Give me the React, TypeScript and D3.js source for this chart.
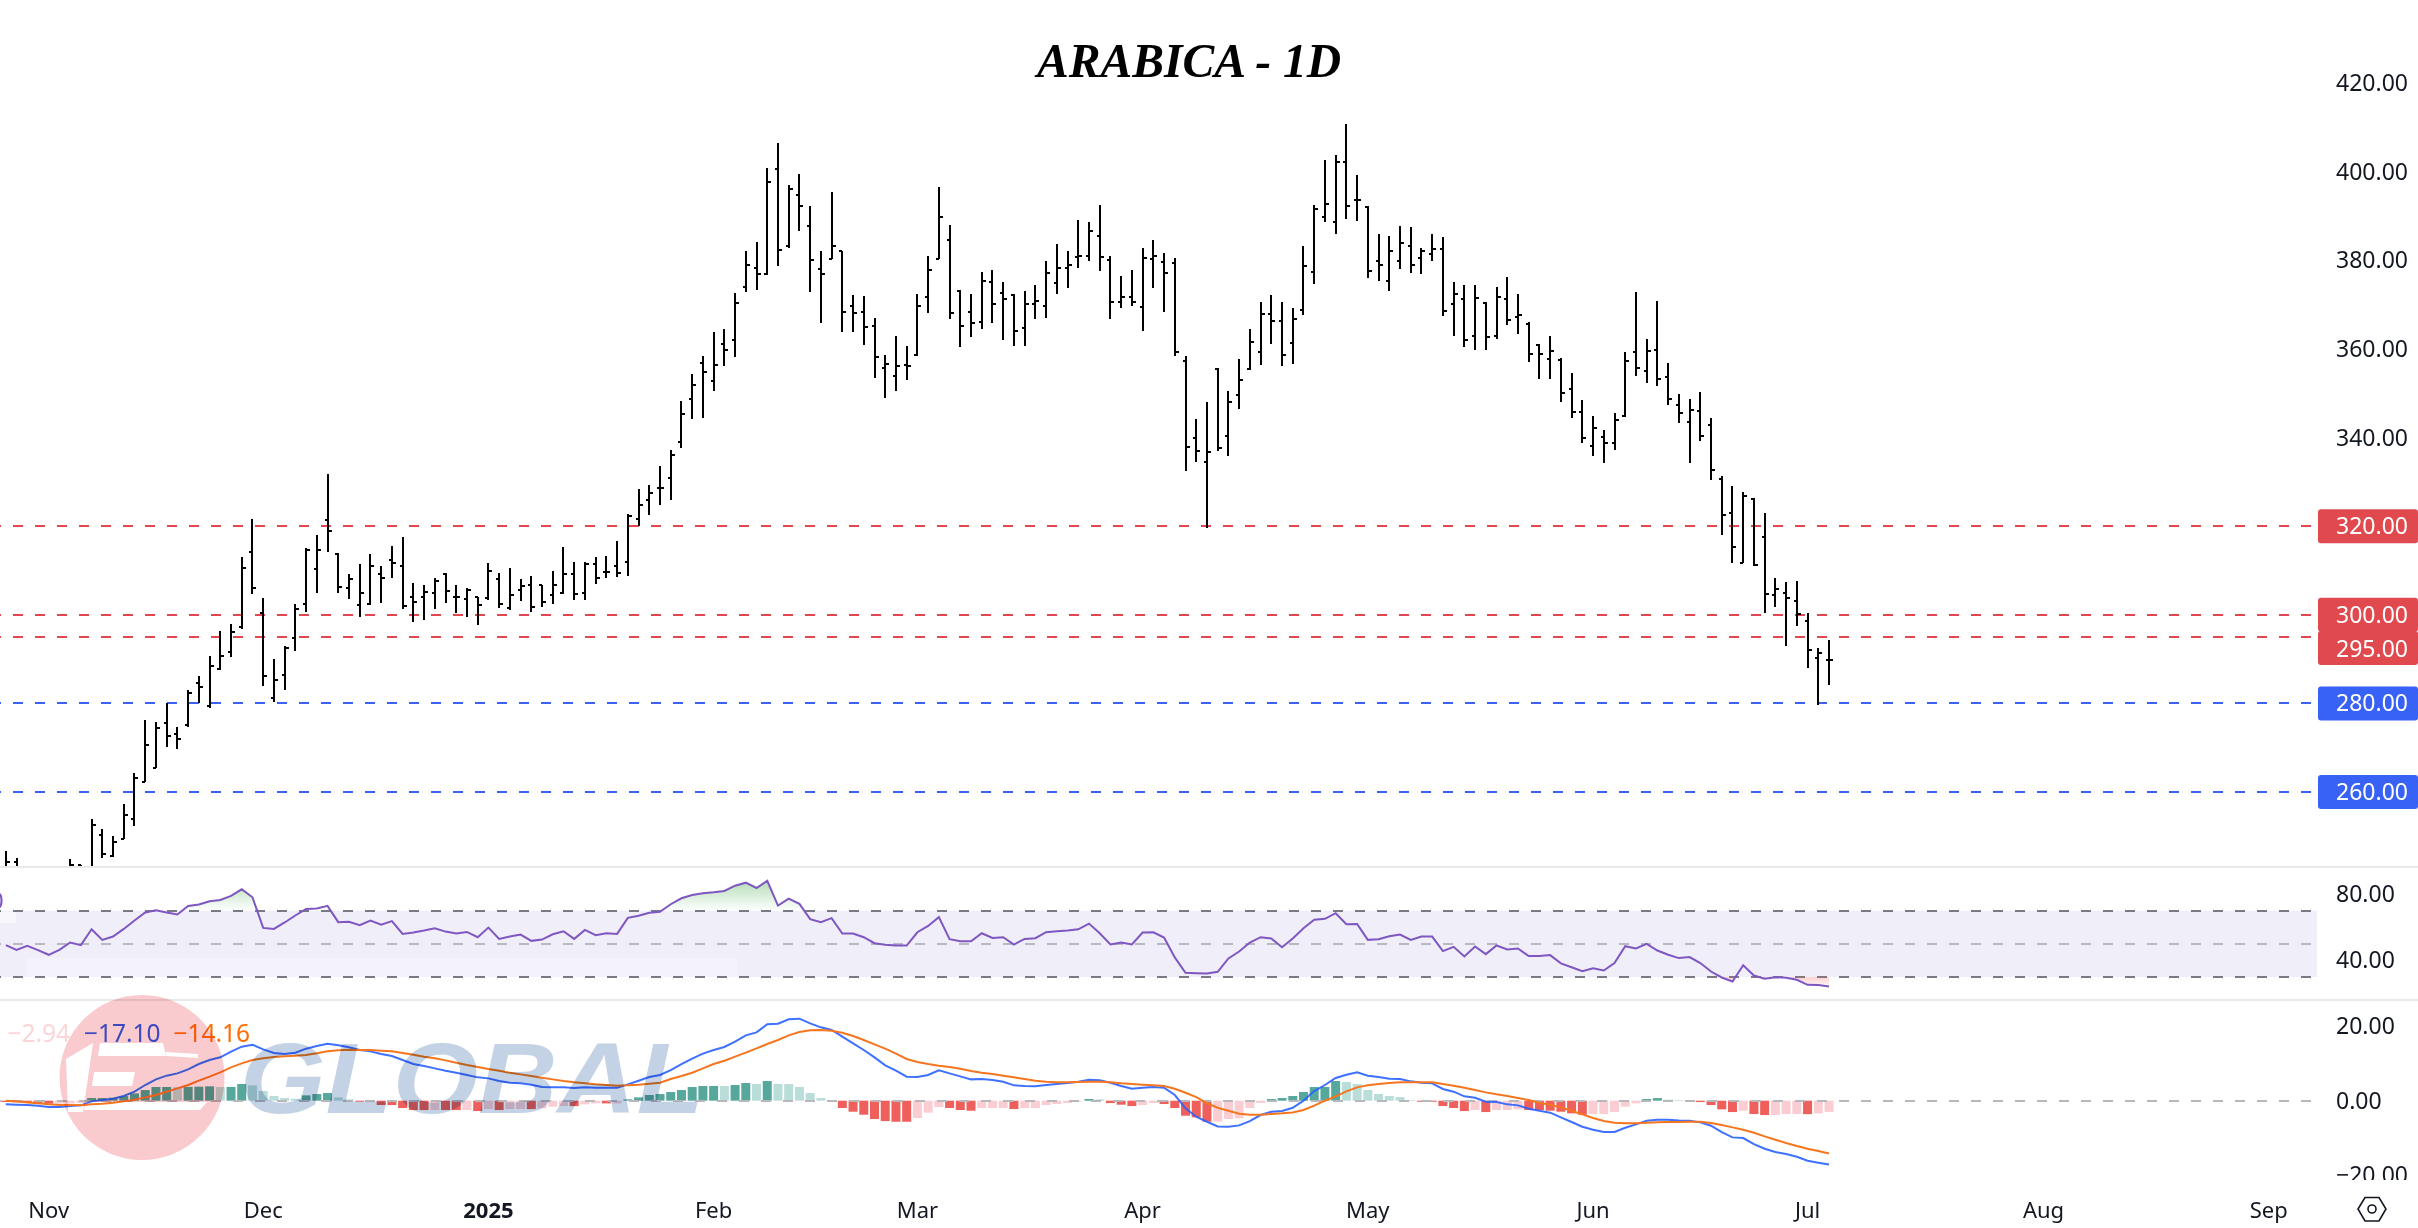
import React from 'react';
import * as d3 from 'd3';

// OHLC, one entry per session (first ones sit below the visible pane)
const opens = [
  241,244.1,240,241,238,240,240,243.5,243,250.2,
  245.6,249.5,254,262.3,265.5,275.5,273.2,275.1,284.6,279.4,
  287.7,291.7,297.2,314.1,300.4,281.3,286.5,294.8,302.5,310.4,
  321.4,313.8,306.1,302.1,302.4,309.1,312.3,311.1,303.9,303.9,
  305,309.1,304,303.5,303.9,303.7,308,301.6,305.6,306.7,
  306.7,304.5,304.8,309.1,304.9,311.4,309.7,311.1,312,321.6,
  326,
  328.6,330.8,339,348.7,356.8,352.7,361.1,362,374,
  378.2,376.9,400.6,383.2,394.7,387.7,378,380.3,382.1,369.7,
  368.3,365.1,355.7,353.9,356.3,358.6,371.7,380.3,384.6,373.1,
  368.3,366,375.1,372.6,372.2,364.7,370.1,369.7,374.9,378.2,
  380.7,380.9,385.5,380,370.6,371.7,369.4,380.3,379.6,379.4,
  357.2,339.9,334.4,355.5,340.3,349.6,355.4,359.3,367.9,366.3,
  361.3,368.8,377.3,389.8,388.6,
  402.2,393.7,392.1,379.9,375.4,379.9,383.3,380.4,381.3,382.6,
  370.2,371.3,363,370.4,362.9,371.3,367.2,365.7,360.8,357.8,
  357.4,351,345.8,338.1,340.1,338.8,344.9,359.4,355,359.8,
  353.7,347.3,343.5,346,342.9,330.6,322.9,311.7,326.2,317.6,
  304.5,304.9,303.1,298.6,290.3,289.9,
];
const highs = [
  246.7,245.2,243,242.5,241,242,244.8,243.5,253.8,251.6,
  250,257.4,264.4,276.2,275.7,280.1,274.6,283.1,286.1,290.7,
  296.4,297.9,313,321.6,303.8,290,293,302.5,315,318.1,
  331.8,314,309.1,311.5,313.8,311,315.5,317.6,307.2,306.7,
  308.4,309.5,306.7,306.1,303.9,311.6,309.5,310.5,308,308.8,
  306.7,309.8,315.2,311.8,311.9,313.1,313.2,316.7,322.8,328.3,
  329.3,
  333.5,337.2,348.2,354.3,358.4,363.8,364.5,372.6,382.1,
  384.1,400.8,406.5,397,399.5,392.2,382.1,395.4,382.2,372.1,
  371.9,367,358.6,362.9,360.6,372.4,380.9,396.5,388,373.3,
  372.4,377.3,377.8,375.1,372.4,373,374.4,379.8,383.7,382.1,
  389.1,388.6,392.5,380.9,376.4,377.8,382.8,384.6,381.6,380.5,
  358.4,344.2,348,355.6,350.5,357.7,364.5,370.6,372.1,370.6,
  369.2,383.2,392.5,402.6,403.7,
  410.8,399.2,392.2,385.9,385.4,387.8,387.5,382.7,385.9,385.3,
  375.1,374.4,374.4,370.6,373.9,376.3,372.4,366,361,362.9,
  358,354.6,348.5,344.8,341.8,345.6,359.2,372.8,362.2,370.8,
  356.7,349.9,348.6,350.3,344.3,331.4,329,327.8,326.3,322.9,
  308.4,307.3,307.6,300.3,292.4,294.3,
];
const lows = [
  239,238,236,237,235,237,238,239,243,245.2,
  245.4,249.3,252.4,262.2,265.4,270.2,269.8,274.7,280.1,279,
  287.5,290.5,296.8,304.6,284,280.3,283.1,291.9,300.7,305,
  314.1,305,303.5,299.6,302.1,302.7,308.3,301.2,298.4,298.9,
  301.2,302.7,300.3,299.6,297.6,303.4,301.6,301,303,300.7,
  301.8,302.5,304.6,303.3,303.3,306.9,308.2,308.6,308.8,320,
  322.6,
  324.8,325.9,337.7,344.2,344.5,350.5,356.2,358.2,372.9,
  373.3,376.7,378.8,382.8,386.7,372.9,365.9,380.2,363.9,363.9,
  360.9,353.5,349,350.5,353,358.5,368.2,380.2,366.8,360.5,
  362.7,364.5,365.9,362,360.7,360.7,366.8,367,372.4,373.8,
  378.3,379.9,377.6,366.8,369.3,369.7,364.1,373.8,368.4,358.5,
  332.5,334.5,319.5,337,335.8,346.4,355.2,356.3,361.1,356.1,
  356.6,367.6,374.6,388.6,385.9,
  389.2,388.9,375.9,375.4,373.1,378.1,377.2,377,379.9,367.5,
  362.9,360.5,359.8,359.8,362.3,365.3,363.4,357.1,353.3,353.3,
  348.1,344.5,338.8,335.9,334.3,337.2,344.7,353.8,352.4,351.7,
  347.4,343.3,334.3,339.3,330.4,318,311.7,311.6,311.1,300.4,
  301.8,292.9,297.5,288,279.6,284.2,
];
const closes = [
  244.1,240,241,238,240,239,243.5,241,252.6,246,
  248.8,254.9,263.2,270.7,274.4,272.7,271.9,282.3,283.8,288.5,
  290.6,296,310.5,306.1,286.2,285.3,292.6,301.4,314.6,314.5,
  318.9,306.3,308.1,305,311.1,308.4,311.6,301.9,302.9,305.2,
  307.7,305.4,303.9,305.6,302.3,309.9,302.4,304.4,306.4,301.7,
  302.9,306.7,309.1,304.6,311.5,308.2,309.7,309.4,322.2,324.7,
  327.4,
  328.6,336,345.3,351.8,354.8,356.3,359.7,370.3,378.9,
  376.9,397.7,382.3,396.1,392.2,380,376.9,383.2,368.3,368.1,
  364.9,358.1,356.6,356.1,356.1,369.7,377.8,389.8,368.1,365.1,
  365.8,375.3,370.1,371.2,364,370.1,370.8,377.1,378.2,378.9,
  380.9,386.6,380.7,370.6,371.7,370.6,380.5,380.9,377.1,359.3,
  337.8,336.9,336.7,337.6,348,353,361.5,367.9,366.3,358.6,
  366.7,378.7,391.6,392.7,402.2,
  392.3,393.7,377.5,378.9,382,383.9,378.9,382,382.6,368.6,
  372.4,362.1,371.5,362.7,371.8,366.5,367.6,358.8,358.8,359.6,
  350,345.8,339.9,342.1,338.8,344,357.3,355.7,359.6,353.2,
  348.8,345.5,346.3,340.3,332.7,322.5,315.3,326.9,311.3,304.6,
  305.9,303.8,300.1,292.1,291.3,289.9,
];

const rsiValues = [
  49.2,46.4,48.8,46.2,43.4,46.4,50.8,49.2,58.8,52.4,
  54.4,59,64.1,68.9,70.3,68.9,67.7,72.9,73.7,75.7,
  76.5,78.9,82.9,78.1,59.6,59,62.9,67.1,71.1,71.3,
  72.9,63.1,63.3,61.2,64.1,61.6,63.7,56,56.8,58,
  59.4,57.4,56.2,57.2,54,59.8,53,54.4,55.6,51.8,
  52.6,55.8,57.6,53,58.4,55.2,56.4,56,65.7,66.9,
  68.7,69.3,73.9,77.5,79.5,80.5,81.1,81.9,85.1,86.9,
  83.7,88,73.1,77.3,74.1,64.9,63.1,65.5,56.2,56.2,
  54,50.4,49.4,49,49,57,60.8,66.1,52.8,51.6,
  51.6,56.4,53.6,54,49.6,53,53.4,57,57.6,58,
  58.8,62.2,56.4,49.6,50.8,49.6,56.8,57,53.8,41.8,
  32.5,32.3,32.1,33.1,41.2,45.4,50.8,54,53.2,48,
  53.2,59.4,64.5,65.1,68.5,61.8,62,52.4,52.8,54.6,
  55.6,52.4,54.4,54.4,45.6,48.2,42.4,48.4,43.8,49,
  46.6,47.2,42.6,42.6,43.2,38.2,35.9,33.5,35.3,33.9,
  38.4,48.6,47.2,50,46,43.4,41.4,42,38.4,33.3,
  29.7,27.3,37.1,30.9,28.9,29.9,29.5,28.3,25.3,25.1,
  24.3,
];

const macdValues = [
  -0.98,-1.07,-1.16,-1.34,-1.7,-1.7,-1.43,-1.25,-0.18,0.18,
  0.54,1.25,2.41,4.2,5.71,6.7,7.32,8.39,9.82,10.89,
  11.61,13.13,14.46,15,13.75,12.77,12.5,12.86,13.93,14.64,
  15.27,14.82,14.29,13.57,13.21,12.5,11.96,10.89,9.82,9.29,
  8.66,8.04,7.5,6.88,6.25,5.98,5.27,4.82,4.64,4.29,
  3.66,3.57,3.57,3.39,3.57,3.48,3.48,3.48,4.38,5.36,
  6.34,6.88,8.21,9.82,11.25,12.59,13.57,14.38,15.8,17.5,
  18.3,20.45,20.63,21.79,21.96,20.71,19.64,18.93,17.14,15.36,
  13.57,11.61,9.46,8.04,6.43,6.34,6.88,8.13,7.32,6.52,
  5.71,5.8,5.54,5.09,4.11,3.93,3.84,4.2,4.46,4.73,
  5.09,5.63,5.45,4.82,3.93,3.21,3.48,3.66,3.48,1.52,
  -2.05,-4.29,-5.63,-6.88,-6.96,-6.61,-5.45,-3.84,-2.95,-2.77,
  -1.88,0,2.59,4.2,6.07,6.96,7.59,6.7,6.34,5.89,
  5.8,5.18,4.82,4.64,3.13,2.41,1.16,0.8,-0.27,-0.36,
  -0.98,-1.25,-2.14,-2.68,-3.21,-4.46,-5.71,-6.96,-7.77,-8.39,
  -8.39,-7.23,-6.34,-5.36,-5.09,-5.09,-5.27,-5.36,-5.8,-6.7,
  -8.39,-9.82,-10,-11.61,-12.86,-13.75,-14.29,-15,-16.07,-16.61,
  -17.1,
];

const signalValues = [
  0,-0.18,-0.45,-0.71,-0.98,-1.16,-1.16,-1.25,-0.98,-0.8,
  -0.54,-0.18,0.27,0.89,1.52,2.41,3.3,4.2,5.36,6.43,
  7.59,8.93,10,10.89,11.34,11.7,11.88,12.05,12.23,12.68,
  13.21,13.48,13.66,13.57,13.57,13.39,13.21,12.77,12.32,11.79,
  11.34,10.8,10.18,9.55,9.02,8.48,8.04,7.5,7.05,6.61,
  6.16,5.71,5.27,4.91,4.64,4.38,4.2,4.02,4.11,4.29,
  4.55,4.82,5.8,6.61,7.5,8.66,9.82,10.71,11.79,12.86,
  14.02,15.18,16.25,17.5,18.39,18.84,18.93,18.75,18.21,17.32,
  16.25,15.09,13.93,12.59,11.16,10.36,9.82,9.38,9.02,8.57,
  7.95,7.5,7.14,6.7,6.25,5.8,5.36,5.09,4.91,4.91,
  5,5.09,5.09,4.91,4.64,4.46,4.29,4.11,3.93,3.21,
  2.14,0.98,-0.63,-1.88,-2.68,-3.48,-3.75,-3.75,-3.57,-3.39,
  -3.13,-2.5,-1.34,0,1.16,2.5,3.57,4.11,4.46,4.73,
  4.91,4.91,4.91,4.91,4.46,4.02,3.48,2.86,2.23,1.7,
  1.25,0.71,0.18,-0.54,-1.07,-1.79,-2.68,-3.66,-4.64,-5.45,
  -5.89,-6.07,-6.07,-5.89,-5.8,-5.71,-5.71,-5.63,-5.63,-5.98,
  -6.52,-7.14,-7.77,-8.57,-9.55,-10.45,-11.34,-12.14,-12.86,-13.48,
  -14.16,
];

const histValues = [
  -0.36,-0.45,-0.54,-0.63,-0.8,-0.78,-0.75,-0.63,0.71,0.72,
  0.8,1.25,1.96,2.86,3.66,3.67,3.6,3.7,3.75,3.85,
  3.66,3.68,4.46,4.1,2.59,1.25,0.71,0.54,1.43,1.79,
  2.05,0.89,0.36,-0.27,-0.36,-1.16,-1.17,-1.96,-2.5,-2.51,
  -2.49,-2.5,-2.51,-2.5,-2.77,-2.23,-2.5,-2.23,-2.22,-2.24,
  -2.05,-1.61,-1.43,-1.44,-0.98,-0.71,-0.72,-0.71,0.36,0.89,
  1.52,1.79,2.32,2.86,3.66,3.93,3.94,3.93,4.2,4.73,
  4.46,5.27,4.46,4.45,3.66,2.05,0.71,0.18,-1.96,-2.95,
  -3.75,-4.91,-5.45,-5.63,-5.64,-4.64,-3.21,-1.7,-1.96,-2.5,
  -2.68,-1.96,-1.95,-1.94,-2.23,-1.96,-1.95,-1.16,-0.89,-0.63,
  -0.18,0.45,0.36,-0.63,-1.07,-1.43,-1.16,-0.63,-0.89,-1.96,
  -4.02,-4.46,-5.63,-5.62,-4.91,-4.73,-1.96,-0.63,0.45,0.71,
  1.25,2.32,3.66,3.67,5.27,5,4.46,2.86,1.79,1.25,
  0.98,0.18,-0.27,-0.28,-1.43,-1.96,-2.77,-2.5,-3.04,-2.5,
  -2.49,-2.32,-2.5,-2.51,-2.68,-2.95,-3.39,-3.75,-3.57,-3.56,
  -3.04,-1.61,-0.71,0.45,0.71,0.27,0.18,0.17,-0.36,-1.16,
  -2.32,-3.04,-2.68,-3.57,-3.84,-3.83,-3.57,-3.56,-3.6,-3.39,
  -3,
];

const priceTicks = [420, 400, 380, 360, 340];
const resistanceLevels = [320, 300, 295];
const supportLevels = [280, 260];
const rsiTicks = [80, 40];
const macdTicks = [20, 0, -20];
const timeLabels = ['Nov', 'Dec', '2025', 'Feb', 'Mar', 'Apr', 'May', 'Jun', 'Jul', 'Aug', 'Sep'];
const timeLabelIndex = [4, 24, 45, 66, 85, 106, 127, 148, 168, 190, 211];
const macdLegend = ['\u22122.94', '\u221217.10', '\u221214.16'];

const W = 2418;
const H = 1228;
const plotRight = 2317;
const axisX = 2336;
const fontAxis = '"Noto Sans", sans-serif';

const x = d3.scaleLinear().domain([0, 170]).range([5.8, 1829]);
const yPrice = d3.scaleLinear().domain([420, 260]).range([83, 792]);
const yRsi = d3.scaleLinear().domain([70, 30]).range([910.7, 977]);
const yMacd = d3.scaleLinear().domain([20, -20]).range([1026, 1175.4]);

const fmt = d3.format('.2f');
const axisFmt = (v: number) => fmt(v).replace('-', '\u2212');

// dashes in the source keep a 22px period starting left of the page
const DashLine = ({ y, color, width = 2 }: { y: number; color: string; width?: number }) => (
  <line x1={-9.3} x2={plotRight} y1={Math.round(y)} y2={Math.round(y)} stroke={color} strokeWidth={width}
    strokeDasharray="10 12" shapeRendering="crispEdges" />
);

const PriceTag = ({ v, color, dy = 0, textDy = 0 }: { v: number; color: string; dy?: number; textDy?: number }) => (
  <g>
    <rect x={2318} y={yPrice(v) + dy - 17} width={100} height={34} rx={3} fill={color} />
    <text x={axisX} y={yPrice(v) + dy + textDy + 8} fill="#fff" fontFamily={fontAxis} fontSize={23}>{axisFmt(v)}</text>
  </g>
);

export default function App() {
  const rsiLine = d3.line<number>().x((_, i) => x(i)).y(d => yRsi(d));
  const rsiAreaTop = d3.area<number>().x((_, i) => x(i)).y0(yRsi(70)).y1(d => yRsi(d));
  const rsiAreaBottom = d3.area<number>().x((_, i) => x(i)).y0(yRsi(30)).y1(d => yRsi(d));
  const macdLine = d3.line<number>().x((_, i) => x(i)).y(d => yMacd(d));

  const histColor = (v: number, i: number) => {
    const prev = i > 0 ? histValues[i - 1] : v;
    if (v >= 0) return v >= prev ? '#57a89c' : '#b9ddd8';
    return v <= prev ? '#ef5f5b' : '#f9cdd2';
  };

  return (
    <svg width={W} height={H} viewBox={`0 0 ${W} ${H}`}
      style={{ position: 'absolute', left: 0, top: 0, display: 'block', background: '#fff' }}>
      <defs>
        <clipPath id="mainClip"><rect x={0} y={0} width={plotRight} height={866} /></clipPath>
        <clipPath id="rsiTop"><rect x={0} y={867} width={plotRight} height={yRsi(70) - 867} /></clipPath>
        <clipPath id="rsiBottom"><rect x={0} y={yRsi(30)} width={plotRight} height={999 - yRsi(30)} /></clipPath>
        <clipPath id="macdAxisClip"><rect x={2320} y={1000} width={98} height={180} /></clipPath>
        <linearGradient id="rsiGreen" x1="0" x2="0" y1={yRsi(88)} y2={yRsi(70)} gradientUnits="userSpaceOnUse">
          <stop offset="0" stopColor="#4caf50" stopOpacity={0.42} />
          <stop offset="1" stopColor="#4caf50" stopOpacity={0} />
        </linearGradient>
        <linearGradient id="rsiRed" x1="0" x2="0" y1={yRsi(30)} y2={yRsi(24)} gradientUnits="userSpaceOnUse">
          <stop offset="0" stopColor="#ff5252" stopOpacity={0.25} />
          <stop offset="1" stopColor="#ff5252" stopOpacity={0.05} />
        </linearGradient>
      </defs>

      <text x={1189} y={77} textAnchor="middle" fontFamily='"Liberation Serif", serif'
        fontWeight="bold" fontStyle="italic" fontSize={47.6} fill="#000">ARABICA - 1D</text>

      {/* price pane */}
      {resistanceLevels.map(v => <DashLine key={v} y={yPrice(v)} color="#e2474f" />)}
      {supportLevels.map(v => <DashLine key={v} y={yPrice(v)} color="#3a63f3" />)}
      <g clipPath="url(#mainClip)" stroke="#000" strokeWidth={2} shapeRendering="crispEdges">
        {opens.map((o, i) => {
          const cx = Math.round(x(i));
          return (
            <g key={i}>
              <line x1={cx} x2={cx} y1={yPrice(highs[i])} y2={yPrice(lows[i])} />
              <line x1={cx - 3.5} x2={cx} y1={yPrice(o)} y2={yPrice(o)} />
              <line x1={cx} x2={cx + 3.5} y1={yPrice(closes[i])} y2={yPrice(closes[i])} />
            </g>
          );
        })}
      </g>

      {/* pane separators */}
      <rect x={0} y={866} width={W} height={2} fill="#e9e9ea" />
      <rect x={0} y={999} width={W} height={2} fill="#e9e9ea" />

      {/* RSI pane */}
      <rect x={0} y={yRsi(70)} width={plotRight} height={yRsi(30) - yRsi(70)} fill="#f0eef8" />
      <rect x={26.5} y={958} width={711} height={19} fill="#fff" opacity={0.25} />
      <rect x={0} y={912} width={16} height={11} fill="#fff" opacity={0.5} />
      <DashLine y={yRsi(70)} color="#787b86" />
      <DashLine y={yRsi(50)} color="#b8b8c0" />
      <DashLine y={yRsi(30)} color="#787b86" />
      <path d={rsiAreaTop(rsiValues) ?? ''} fill="url(#rsiGreen)" clipPath="url(#rsiTop)" />
      <path d={rsiAreaBottom(rsiValues) ?? ''} fill="url(#rsiRed)" clipPath="url(#rsiBottom)" />
      <path d={rsiLine(rsiValues) ?? ''} fill="none" stroke="#7e57c2" strokeWidth={2} />
      <text x={-10} y={909} fontFamily={fontAxis} fontSize={24} fill="#7e57c2">0</text>

      {/* MACD pane */}
      {histValues.map((v, i) => (
        <rect key={i} x={x(i) - 4.5} width={9}
          y={Math.min(yMacd(v), yMacd(0))} height={Math.abs(yMacd(v) - yMacd(0))}
          fill={histColor(v, i)} />
      ))}
      <DashLine y={yMacd(0)} color="#b8b8bc" />
      <path d={macdLine(macdValues) ?? ''} fill="none" stroke="#2962ff" strokeWidth={2} opacity={0.9} />
      <path d={macdLine(signalValues) ?? ''} fill="none" stroke="#f5761f" strokeWidth={2} />
      <g fontFamily={fontAxis} fontSize={24.5}>
        <text x={7.5} y={1042} fill="#fbd5d8">{macdLegend[0]}</text>
        <text x={84} y={1042} fill="#3d5cf0">{macdLegend[1]}</text>
        <text x={173.5} y={1042} fill="#ff6d00">{macdLegend[2]}</text>
      </g>

      {/* watermark sits over the marks, so they show through it */}
      <g style={{ mixBlendMode: 'multiply' }}>
        <circle cx={142} cy={1077.5} r={82.5} fill="#f9cbce" />
        <g fill="#fff">
          <polygon points="66,1059 93,1043 83,1112 68,1112" />
          <polygon points="100,1043 163,1043 166,1056 98,1056" />
          <polygon points="166,1052 198,1054 198,1058 166,1056" />
          <polygon points="94,1072 135,1072 132,1086 92,1086" />
          <polygon points="86,1102 207,1102 200,1110 84,1110" />
        </g>
        <text x={240} y={1113} fontFamily='"Liberation Sans", sans-serif' fontWeight="bold" fontStyle="italic"
          fontSize={101} textLength={464} lengthAdjust="spacingAndGlyphs" fill="#c4d2e5">GLOBAL</text>
      </g>

      {/* price axis */}
      <g fontFamily={fontAxis} fontSize={23} fill="#131722">
        {priceTicks.map(v => <text key={v} x={axisX} y={yPrice(v) + 8}>{axisFmt(v)}</text>)}
        {rsiTicks.map(v => <text key={v} x={axisX} y={yRsi(v) + 8}>{axisFmt(v)}</text>)}
        <g clipPath="url(#macdAxisClip)">
          {macdTicks.map(v => <text key={v} x={axisX} y={yMacd(v) + 8}>{axisFmt(v)}</text>)}
        </g>
      </g>
      <PriceTag v={320} color="#e04a4f" />
      <PriceTag v={300} color="#e04a4f" />
      <PriceTag v={295} color="#e04a4f" dy={11} textDy={0.7} />
      <PriceTag v={280} color="#3861f6" />
      <PriceTag v={260} color="#3861f6" />

      {/* time axis */}
      <g fontFamily={fontAxis} fontSize={22} fill="#131722" textAnchor="middle">
        {timeLabels.map((t, i) => (
          <text key={t} x={x(timeLabelIndex[i])} y={1217.5} fontWeight={t === '2025' ? 'bold' : 'normal'}>{t}</text>
        ))}
      </g>

      {/* scale settings icon */}
      <g fill="none" stroke="#131722" strokeWidth={1.6}>
        <polygon points="2358,1209 2365,1197.5 2379,1197.5 2386,1209 2379,1221 2365,1221" />
        <circle cx={2372} cy={1209} r={4} />
      </g>
    </svg>
  );
}
